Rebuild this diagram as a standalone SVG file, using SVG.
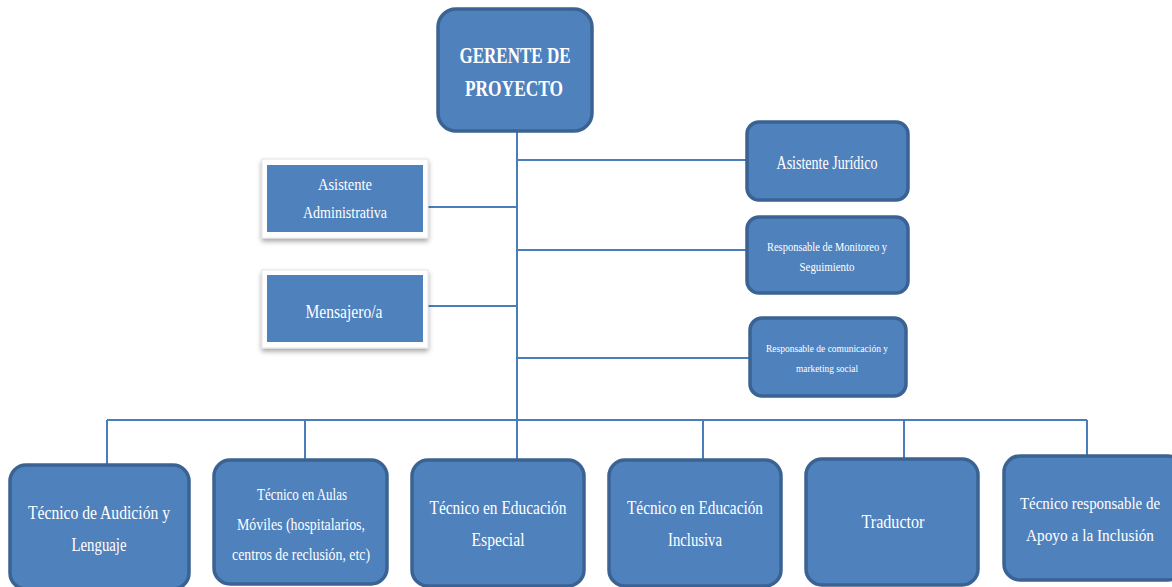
<svg xmlns="http://www.w3.org/2000/svg" width="1172" height="587" viewBox="0 0 1172 587">
<style>
.box{fill:#4F81BD;stroke:#3A6393;stroke-width:3.5}
.plain{fill:#4F81BD;stroke:none}
.frame{fill:#ffffff;stroke:#e4e4e4;stroke-width:1}
.ln{stroke:#4A7EBB;stroke-width:2;fill:none}
text{font-family:"Liberation Serif","Times New Roman",serif;fill:#ffffff;text-anchor:middle}
.b{font-weight:bold}
</style>
<defs>
<filter id="sh" x="-10%" y="-10%" width="130%" height="140%">
<feDropShadow dx="0" dy="3" stdDeviation="2.5" flood-color="#000" flood-opacity="0.35"/>
</filter>
</defs>
<rect width="1172" height="587" fill="#ffffff"/>
<g id="connectors">
<line class="ln" x1="517" y1="132" x2="517" y2="420"/>
<line class="ln" x1="107" y1="420" x2="1087" y2="420"/>
<line class="ln" x1="517" y1="160" x2="747" y2="160"/>
<line class="ln" x1="517" y1="250" x2="747" y2="250"/>
<line class="ln" x1="517" y1="358" x2="750" y2="358"/>
<line class="ln" x1="423" y1="207" x2="517" y2="207"/>
<line class="ln" x1="423" y1="306" x2="517" y2="306"/>
<line class="ln" x1="107" y1="420" x2="107" y2="465"/>
<line class="ln" x1="305" y1="420" x2="305" y2="460"/>
<line class="ln" x1="517" y1="420" x2="517" y2="460"/>
<line class="ln" x1="703" y1="420" x2="703" y2="460"/>
<line class="ln" x1="904" y1="420" x2="904" y2="458"/>
<line class="ln" x1="1087" y1="420" x2="1087" y2="455"/>
</g>
<g id="gerente">
<rect class="box" x="438" y="9" width="154" height="122" rx="18"/>
<text class="b" x="515" y="63" font-size="24" textLength="111" lengthAdjust="spacingAndGlyphs">GERENTE DE</text>
<text class="b" x="514" y="96" font-size="24" textLength="98" lengthAdjust="spacingAndGlyphs">PROYECTO</text>
</g>
<g id="asistente-juridico">
<rect class="box" x="747" y="122" width="161" height="78" rx="12"/>
<text x="827" y="169" font-size="18" textLength="101" lengthAdjust="spacingAndGlyphs">Asistente Jurídico</text>
</g>
<g id="responsable-monitoreo">
<rect class="box" x="747" y="217" width="161" height="76" rx="12"/>
<text x="827" y="251" font-size="12" textLength="120" lengthAdjust="spacingAndGlyphs">Responsable de Monitoreo y</text>
<text x="827" y="271" font-size="12" textLength="55" lengthAdjust="spacingAndGlyphs">Seguimiento</text>
</g>
<g id="responsable-comunicacion">
<rect class="box" x="750" y="318" width="156" height="78" rx="12"/>
<text x="827" y="352" font-size="11" textLength="122" lengthAdjust="spacingAndGlyphs">Responsable  de comunicación y</text>
<text x="827" y="372" font-size="11" textLength="62" lengthAdjust="spacingAndGlyphs">marketing social</text>
</g>
<g id="asistente-administrativa">
<rect class="frame" x="262" y="159" width="166" height="79" filter="url(#sh)"/>
<rect class="plain" x="267" y="165" width="156" height="67"/>
<text x="345" y="190" font-size="16" textLength="54" lengthAdjust="spacingAndGlyphs">Asistente</text>
<text x="345" y="218" font-size="16" textLength="84" lengthAdjust="spacingAndGlyphs">Administrativa</text>
</g>
<g id="mensajero">
<rect class="frame" x="262" y="270" width="166" height="78" filter="url(#sh)"/>
<rect class="plain" x="267" y="275" width="156" height="67"/>
<text x="344" y="318" font-size="18" textLength="77" lengthAdjust="spacingAndGlyphs">Mensajero/a</text>
</g>
<g id="tecnico-audicion">
<rect class="box" x="10" y="465" width="179" height="124" rx="16"/>
<text x="99" y="519" font-size="19" textLength="142" lengthAdjust="spacingAndGlyphs">Técnico de Audición  y</text>
<text x="99" y="551" font-size="19" textLength="55" lengthAdjust="spacingAndGlyphs">Lenguaje</text>
</g>
<g id="tecnico-aulas">
<rect class="box" x="214" y="460" width="173" height="124" rx="16"/>
<text x="302" y="500" font-size="16" textLength="90" lengthAdjust="spacingAndGlyphs">Técnico en Aulas</text>
<text x="301" y="530" font-size="16" textLength="128" lengthAdjust="spacingAndGlyphs">Móviles (hospitalarios,</text>
<text x="301" y="560" font-size="16" textLength="138" lengthAdjust="spacingAndGlyphs">centros de reclusión, etc)</text>
</g>
<g id="tecnico-especial">
<rect class="box" x="412" y="460" width="172" height="126" rx="16"/>
<text x="498" y="514" font-size="19" textLength="137" lengthAdjust="spacingAndGlyphs">Técnico en Educación</text>
<text x="498" y="546" font-size="19" textLength="53" lengthAdjust="spacingAndGlyphs">Especial</text>
</g>
<g id="tecnico-inclusiva">
<rect class="box" x="609" y="460" width="172" height="126" rx="16"/>
<text x="695" y="514" font-size="19" textLength="136" lengthAdjust="spacingAndGlyphs">Técnico en Educación</text>
<text x="695" y="546" font-size="19" textLength="54" lengthAdjust="spacingAndGlyphs">Inclusiva</text>
</g>
<g id="traductor">
<rect class="box" x="806" y="459" width="172" height="126" rx="16"/>
<text x="893" y="528" font-size="19" textLength="63" lengthAdjust="spacingAndGlyphs">Traductor</text>
</g>
<g id="tecnico-apoyo">
<rect class="box" x="1004" y="456" width="180" height="124" rx="16"/>
<text x="1090" y="509" font-size="16" textLength="140" lengthAdjust="spacingAndGlyphs">Técnico responsable de</text>
<text x="1090" y="541" font-size="17" textLength="128" lengthAdjust="spacingAndGlyphs">Apoyo a la Inclusión</text>
</g>
</svg>
